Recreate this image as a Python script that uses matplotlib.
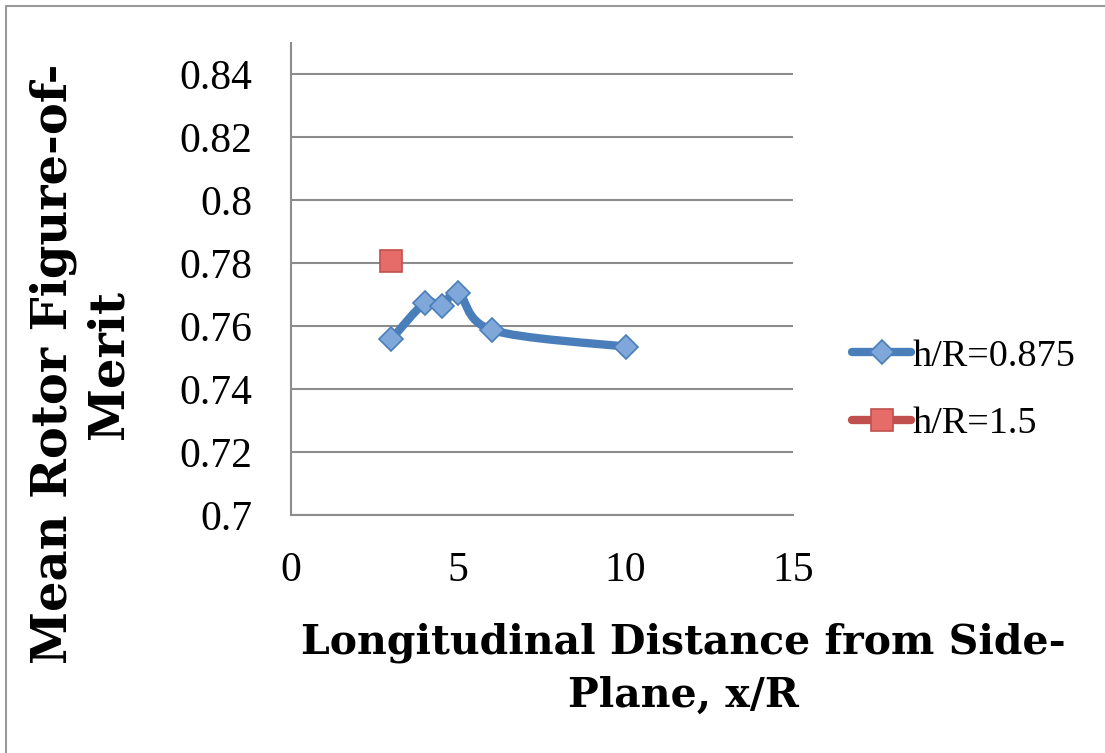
import numpy as np
import matplotlib
matplotlib.use("Agg")
import matplotlib.pyplot as plt
from matplotlib.path import Path
from matplotlib.patches import PathPatch
from matplotlib.lines import Line2D

# ---------------------------------------------------------------------------
# Data
# ---------------------------------------------------------------------------
x_0875 = [3, 4, 4.5, 5, 6, 10]
fm_0875 = [0.7559, 0.7674, 0.7663, 0.7707, 0.7588, 0.7535]

x_15 = [3]
fm_15 = [0.7808]

labels = ["h/R=0.875", "h/R=1.5"]
y_ticks = [0.70, 0.72, 0.74, 0.76, 0.78, 0.80, 0.82, 0.84]
y_ticklabels = ["0.7", "0.72", "0.74", "0.76", "0.78", "0.8", "0.82", "0.84"]
x_ticks = [0, 5, 10, 15]

BLUE = "#4A7EBB"
BLUE_FILL = "#7FA7DA"
RED = "#C0504D"
RED_FILL = "#E66C69"
GRID = "#8C8C8C"


def smooth_path(x, y):
    """Excel-style smoothed line: Catmull-Rom segments as cubic Beziers."""
    pts = np.column_stack([x, y]).astype(float)
    ext = np.vstack([pts[0], pts, pts[-1]])
    verts = [pts[0]]
    codes = [Path.MOVETO]
    for i in range(1, len(ext) - 2):
        p0, p1, p2, p3 = ext[i - 1], ext[i], ext[i + 1], ext[i + 2]
        c1 = p1 + (p2 - p0) / 6.0
        c2 = p2 - (p3 - p1) / 6.0
        verts += [c1, c2, p2]
        codes += [Path.CURVE4] * 3
    return Path(verts, codes)


fig = plt.figure(figsize=(11.05, 7.53), dpi=100)
ax = fig.add_axes([291 / 1105, 1 - 515 / 753, (793 - 291) / 1105, (515 - 43) / 753])

# smoothed series line, then markers on top
ax.add_patch(PathPatch(smooth_path(x_0875, fm_0875), facecolor="none",
                       edgecolor=BLUE, lw=6, capstyle="round",
                       joinstyle="round", zorder=3))
ax.plot(x_0875, fm_0875, ls="none", marker="D", ms=12,
        mfc=BLUE_FILL, mec=BLUE, mew=1.2, zorder=4)
ax.plot(x_15, fm_15, ls="none", marker="s", ms=16.5,
        mfc=RED_FILL, mec=RED, mew=1.2, zorder=4)

ax.set_xlim(0, 15)
ax.set_ylim(0.70, 0.85)
ax.set_xticks(x_ticks)
ax.set_yticks(y_ticks)
ax.set_yticklabels(y_ticklabels)
ax.yaxis.grid(True, color=GRID, lw=1.5)
ax.set_axisbelow(True)
for s in ["top", "right"]:
    ax.spines[s].set_visible(False)
for s in ["left", "bottom"]:
    ax.spines[s].set_color(GRID)
    ax.spines[s].set_linewidth(1.5)
ax.tick_params(length=0)
ax.tick_params(axis="y", pad=28)
ax.tick_params(axis="x", pad=26)
for t in ax.get_xticklabels() + ax.get_yticklabels():
    t.set_fontfamily("Liberation Serif")
    t.set_fontsize(30)

# legend
handles = [
    Line2D([], [], color=BLUE, lw=6, solid_capstyle="round", marker="D",
           ms=12, mfc=BLUE_FILL, mec=BLUE, mew=1.2),
    Line2D([], [], color=RED, lw=6, solid_capstyle="round", marker="s",
           ms=16.5, mfc=RED_FILL, mec=RED, mew=1.2),
]
fig.legend(handles, labels, loc="upper left",
           bbox_to_anchor=(852 / 1105, 1 - 339 / 753), frameon=False,
           prop={"family": "Liberation Serif", "size": 27.5},
           handlelength=1.55, handletextpad=0.05, labelspacing=0.85,
           borderpad=0, borderaxespad=0)

# axis titles
fig.text(683 / 1105, 1 - 669 / 753,
         "Longitudinal Distance from Side-\nPlane, x/R",
         ha="center", va="center", multialignment="center",
         family="DejaVu Serif", weight="bold", fontsize=29.5, linespacing=1.4)
fig.text(81 / 1105, 1 - 364 / 753, "Mean Rotor Figure-of-\nMerit",
         ha="center", va="center", multialignment="center", rotation=90,
         family="DejaVu Serif", weight="bold", fontsize=34.5, linespacing=1.25)

# chart-area border (top and left edges visible)
fig.add_artist(Line2D([6 / 1105, 6 / 1105, 1.0], [0.0, 1 - 6 / 753, 1 - 6 / 753],
                      transform=fig.transFigure, color="#999999", lw=1.5))

fig.savefig("out.png", dpi=100)
